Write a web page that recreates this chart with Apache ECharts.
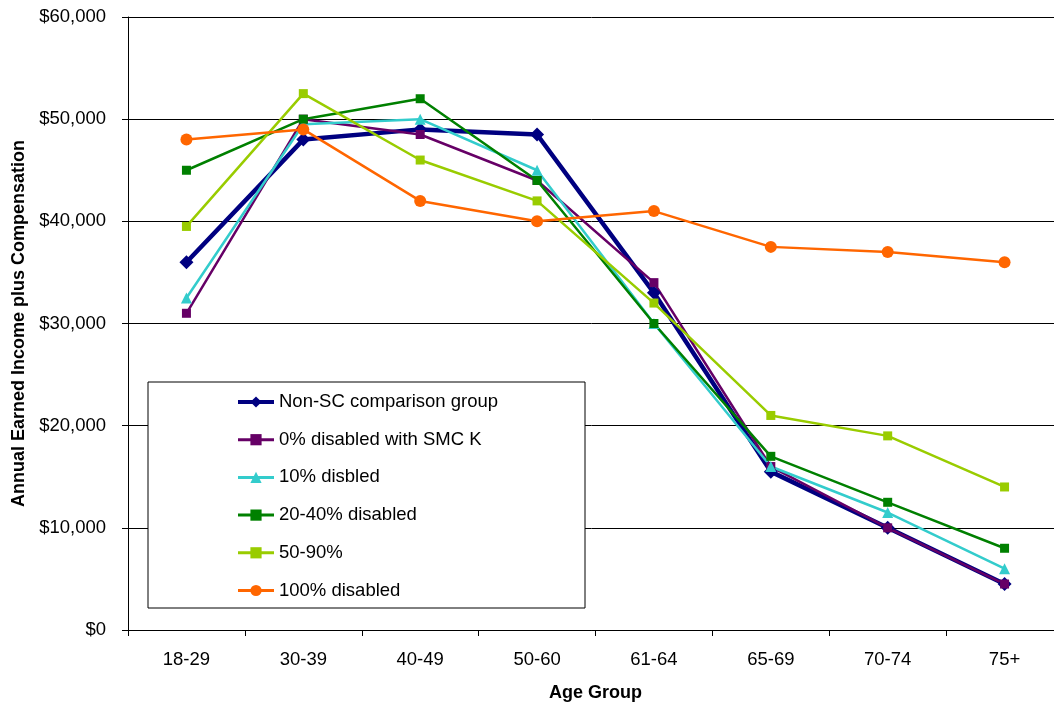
<!DOCTYPE html>
<html>
<head>
<meta charset="utf-8">
<script src="https://cdn.jsdelivr.net/npm/echarts@6/dist/echarts.min.js"></script>
<style>
html,body{margin:0;padding:0;background:#fff;overflow:hidden;}
#chart{width:1054px;height:702px;}
</style>
</head>
<body>
<div id="chart"></div>
<script>
var categories = ['18-29','30-39','40-49','50-60','61-64','65-69','70-74','75+'];
var seriesNames = ['Non-SC comparison group','0% disabled with SMC K','10% disbled','20-40% disabled','50-90%','100% disabled'];
var nonSC    = [36000,48000,49000,48500,33000,15500,10000,4500];
var smcK     = [31000,50000,48500,44000,34000,16000,10000,4500];
var dis10    = [32500,49500,50000,45000,30000,16000,11500,6000];
var dis20_40 = [45000,50000,52000,44000,30000,17000,12500,8000];
var dis50_90 = [39500,52500,46000,42000,32000,21000,19000,14000];
var dis100   = [48000,49000,42000,40000,41000,37500,37000,36000];
var yTickValues = [0,10000,20000,30000,40000,50000,60000];

var FONT = '"Liberation Sans", Arial, sans-serif';
var colors = ['#000080','#660066','#33CCCC','#008000','#99CC00','#FF6600'];
var widths = [4.5, 2.5, 2.5, 2.5, 2.5, 2.5];

function money(v){
  var s = String(Math.round(v));
  return '$' + s.replace(/\B(?=(\d{3})+(?!\d))/g, ',');
}

function mk(i, data, symbol, size){
  return {
    name: seriesNames[i], type: 'line', data: data,
    symbol: symbol, symbolSize: size,
    lineStyle: {color: colors[i], width: widths[i]},
    itemStyle: {color: colors[i], borderWidth: 0},
    emphasis: {disabled: true},
    animation: false
  };
}

var legendData = seriesNames.map(function(n, i){
  return {name: n, lineStyle: {width: i === 0 ? 4 : 3, color: colors[i]}};
});

var chart = echarts.init(document.getElementById('chart'), null, {renderer: 'canvas'});
chart.setOption({
  animation: false,
  backgroundColor: '#fff',
  grid: {left: 128, top: 17, width: 935, height: 613, containLabel: false, outerBoundsMode: 'none'},
  graphic: [{
    type: 'rect', z: 3,
    shape: {x: 148, y: 382, width: 437, height: 226},
    style: {fill: '#fff', stroke: '#000', lineWidth: 1}
  }],
  legend: {
    orient: 'vertical', left: 236, top: 392, z: 10,
    itemWidth: 36, itemHeight: 14, itemGap: 17.7,
    padding: 0,
    textStyle: {fontFamily: FONT, fontSize: 18.5, color: '#000', lineHeight: 20},
    data: legendData
  },
  xAxis: {
    type: 'category', data: categories, boundaryGap: true,
    name: 'Age Group', nameLocation: 'middle', nameGap: 54,
    nameTextStyle: {fontFamily: FONT, fontSize: 18, fontWeight: 'bold', color: '#000'},
    axisLine: {show: true, lineStyle: {color: '#000', width: 1}},
    axisTick: {show: true, alignWithLabel: false, length: 6, lineStyle: {color: '#000'}},
    axisLabel: {fontFamily: FONT, fontSize: 18.5, color: '#000', margin: 20, interval: 0},
    splitLine: {show: false}
  },
  yAxis: {
    type: 'value', min: 0, max: 60000, interval: 10000,
    name: 'Annual Earned Income plus Compensation', nameLocation: 'middle', nameGap: 99,
    nameTextStyle: {fontFamily: FONT, fontSize: 18, fontWeight: 'bold', color: '#000'},
    axisLine: {show: true, lineStyle: {color: '#000', width: 1}},
    axisTick: {show: true, length: 6, lineStyle: {color: '#000'}},
    axisLabel: {fontFamily: FONT, fontSize: 18.5, color: '#000', margin: 22,
      formatter: function(v){ return yTickValues.indexOf(v) >= 0 ? money(v) : ''; }},
    splitLine: {show: true, lineStyle: {color: '#000', width: 1}}
  },
  series: [
    mk(0, nonSC,    'diamond',  14),
    mk(1, smcK,     'rect',     9),
    mk(2, dis10,    'triangle', 11),
    mk(3, dis20_40, 'rect',     9),
    mk(4, dis50_90, 'rect',     9),
    mk(5, dis100,   'circle',   12)
  ]
});
</script>
</body>
</html>
